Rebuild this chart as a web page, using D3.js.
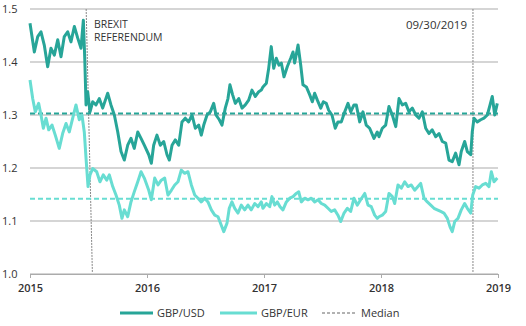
<!DOCTYPE html>
<html>
<head>
<meta charset="utf-8">
<script src="https://cdn.jsdelivr.net/npm/d3@7"></script>
<style>
  body { margin: 0; background: #fff; }
  svg text { font-family: "Open Sans", "Noto Sans", sans-serif; fill: #333; }
</style>
</head>
<body>
<div id="chart"></div>
<script>
// GBP/USD daily close (fractional year, rate)
const usdDates = [2015.000, 2015.037, 2015.066, 2015.094, 2015.122, 2015.151, 2015.179, 2015.208, 2015.237, 2015.265,
  2015.293, 2015.322, 2015.350, 2015.379, 2015.408, 2015.436, 2015.456, 2015.468, 2015.479, 2015.493,
  2015.513, 2015.536, 2015.564, 2015.592, 2015.621, 2015.664, 2015.692, 2015.721, 2015.750, 2015.778,
  2015.806, 2015.835, 2015.863, 2015.891, 2015.921, 2015.949, 2015.977, 2016.015, 2016.037, 2016.057,
  2016.085, 2016.114, 2016.143, 2016.171, 2016.191, 2016.214, 2016.242, 2016.271, 2016.299, 2016.327,
  2016.356, 2016.385, 2016.413, 2016.442, 2016.464, 2016.485, 2016.513, 2016.541, 2016.570, 2016.590,
  2016.618, 2016.641, 2016.669, 2016.692, 2016.709, 2016.732, 2016.755, 2016.784, 2016.812, 2016.840,
  2016.869, 2016.897, 2016.926, 2016.955, 2016.977, 2016.991, 2017.020, 2017.040, 2017.062, 2017.083,
  2017.105, 2017.128, 2017.148, 2017.171, 2017.199, 2017.228, 2017.248, 2017.262, 2017.291, 2017.314,
  2017.333, 2017.362, 2017.391, 2017.413, 2017.433, 2017.456, 2017.485, 2017.507, 2017.532, 2017.553,
  2017.581, 2017.609, 2017.632, 2017.661, 2017.690, 2017.718, 2017.741, 2017.769, 2017.789, 2017.818,
  2017.846, 2017.874, 2017.903, 2017.940, 2017.968, 2017.983, 2018.011, 2018.040, 2018.068, 2018.097,
  2018.126, 2018.154, 2018.182, 2018.211, 2018.239, 2018.268, 2018.297, 2018.325, 2018.353, 2018.382,
  2018.410, 2018.438, 2018.468, 2018.496, 2018.524, 2018.553, 2018.581, 2018.609, 2018.638, 2018.667,
  2018.686, 2018.715, 2018.738, 2018.767, 2018.780, 2018.795, 2018.823, 2018.852, 2018.880, 2018.909,
  2018.932, 2018.951, 2018.972, 2018.994];
const usdValues = [1.473, 1.419, 1.448, 1.457, 1.432, 1.391, 1.426, 1.413, 1.442, 1.410,
  1.448, 1.457, 1.438, 1.467, 1.445, 1.426, 1.479, 1.407, 1.319, 1.344,
  1.306, 1.325, 1.319, 1.331, 1.313, 1.341, 1.319, 1.300, 1.268, 1.231,
  1.215, 1.243, 1.256, 1.237, 1.268, 1.256, 1.243, 1.225, 1.209, 1.243,
  1.262, 1.243, 1.250, 1.225, 1.215, 1.243, 1.253, 1.243, 1.287, 1.294,
  1.287, 1.300, 1.275, 1.281, 1.262, 1.281, 1.300, 1.306, 1.322, 1.300,
  1.291, 1.281, 1.313, 1.331, 1.357, 1.338, 1.322, 1.331, 1.313, 1.319,
  1.328, 1.347, 1.335, 1.344, 1.347, 1.353, 1.360, 1.388, 1.429, 1.388,
  1.407, 1.394, 1.398, 1.372, 1.391, 1.407, 1.419, 1.398, 1.432, 1.394,
  1.357, 1.353, 1.338, 1.325, 1.341, 1.328, 1.313, 1.325, 1.322, 1.309,
  1.300, 1.275, 1.287, 1.287, 1.306, 1.322, 1.306, 1.319, 1.319, 1.287,
  1.306, 1.281, 1.275, 1.256, 1.268, 1.259, 1.275, 1.281, 1.316, 1.300,
  1.278, 1.331, 1.319, 1.322, 1.306, 1.313, 1.300, 1.294, 1.306, 1.275,
  1.265, 1.272, 1.259, 1.265, 1.250, 1.247, 1.215, 1.212, 1.228, 1.206,
  1.231, 1.250, 1.231, 1.225, 1.268, 1.294, 1.287, 1.291, 1.294, 1.300,
  1.319, 1.335, 1.300, 1.322];

// GBP/EUR daily close (fractional year, rate)
const eurDates = [2015.000, 2015.023, 2015.045, 2015.074, 2015.094, 2015.114, 2015.137, 2015.160, 2015.188, 2015.216,
  2015.250, 2015.279, 2015.308, 2015.336, 2015.365, 2015.393, 2015.421, 2015.444, 2015.464, 2015.479,
  2015.496, 2015.513, 2015.536, 2015.570, 2015.598, 2015.626, 2015.656, 2015.678, 2015.707, 2015.735,
  2015.763, 2015.786, 2015.806, 2015.835, 2015.863, 2015.891, 2015.921, 2015.949, 2015.977, 2016.015,
  2016.037, 2016.066, 2016.094, 2016.122, 2016.151, 2016.179, 2016.208, 2016.237, 2016.265, 2016.293,
  2016.322, 2016.350, 2016.379, 2016.408, 2016.436, 2016.464, 2016.493, 2016.521, 2016.550, 2016.579,
  2016.607, 2016.635, 2016.656, 2016.684, 2016.703, 2016.726, 2016.750, 2016.778, 2016.806, 2016.835,
  2016.863, 2016.891, 2016.921, 2016.949, 2016.977, 2016.991, 2017.020, 2017.049, 2017.068, 2017.091,
  2017.114, 2017.137, 2017.162, 2017.191, 2017.220, 2017.248, 2017.276, 2017.297, 2017.319, 2017.348,
  2017.376, 2017.404, 2017.433, 2017.462, 2017.490, 2017.519, 2017.547, 2017.575, 2017.604, 2017.632,
  2017.656, 2017.684, 2017.712, 2017.741, 2017.769, 2017.797, 2017.826, 2017.861, 2017.889, 2017.917,
  2017.946, 2017.968, 2017.983, 2018.011, 2018.040, 2018.068, 2018.097, 2018.117, 2018.145, 2018.174,
  2018.203, 2018.231, 2018.259, 2018.288, 2018.316, 2018.339, 2018.368, 2018.396, 2018.425, 2018.453,
  2018.481, 2018.510, 2018.538, 2018.567, 2018.590, 2018.609, 2018.630, 2018.658, 2018.686, 2018.715,
  2018.738, 2018.767, 2018.784, 2018.809, 2018.838, 2018.866, 2018.895, 2018.923, 2018.943, 2018.966,
  2018.994];
const eurValues = [1.366, 1.331, 1.306, 1.322, 1.300, 1.275, 1.294, 1.272, 1.281, 1.262,
  1.237, 1.265, 1.284, 1.268, 1.294, 1.319, 1.291, 1.300, 1.268, 1.218,
  1.165, 1.187, 1.199, 1.193, 1.174, 1.187, 1.177, 1.187, 1.165, 1.149,
  1.130, 1.105, 1.121, 1.108, 1.136, 1.155, 1.174, 1.193, 1.181, 1.158,
  1.140, 1.181, 1.168, 1.177, 1.181, 1.149, 1.158, 1.168, 1.174, 1.196,
  1.190, 1.193, 1.168, 1.149, 1.143, 1.136, 1.143, 1.136, 1.121, 1.111,
  1.108, 1.092, 1.080, 1.096, 1.124, 1.136, 1.124, 1.115, 1.130, 1.121,
  1.130, 1.121, 1.133, 1.127, 1.136, 1.124, 1.133, 1.127, 1.146, 1.130,
  1.136, 1.127, 1.121, 1.136, 1.143, 1.146, 1.152, 1.155, 1.136, 1.143,
  1.140, 1.143, 1.136, 1.140, 1.133, 1.130, 1.124, 1.118, 1.121, 1.111,
  1.099, 1.115, 1.124, 1.118, 1.143, 1.130, 1.140, 1.152, 1.130, 1.127,
  1.111, 1.105, 1.108, 1.111, 1.118, 1.152, 1.146, 1.133, 1.168, 1.162,
  1.174, 1.165, 1.168, 1.158, 1.165, 1.171, 1.143, 1.136, 1.130, 1.124,
  1.121, 1.118, 1.115, 1.105, 1.089, 1.080, 1.099, 1.105, 1.121, 1.133,
  1.124, 1.115, 1.149, 1.165, 1.162, 1.168, 1.171, 1.165, 1.193, 1.174,
  1.181];

const usdMedian = 1.303;
const eurMedian = 1.142;

const yearTicks = [2015, 2016, 2017, 2018, 2019];
const rateTicks = [1.0, 1.1, 1.2, 1.3, 1.4, 1.5];

// referendum marker (drawn with a slight lean) and the as-of date marker
const brexitTop = 2015.480, brexitBottom = 2015.533;
const asOfDate = 2018.786;

const colUsd = "#27a598";
const colEur = "#68ddd2";
const colGrid = "#ababab";

const W = 526, H = 326;
const svg = d3.select("#chart").append("svg")
  .attr("width", W)
  .attr("height", H);

const x = d3.scaleLinear().domain([2015, 2019]).range([30, 498]);
const y = d3.scaleLinear().domain([1.0, 1.5]).range([274, 9]);

// horizontal gridlines
svg.append("g")
  .selectAll("line")
  .data(rateTicks)
  .join("line")
  .attr("x1", x(2015))
  .attr("x2", x(2019))
  .attr("y1", d => y(d))
  .attr("y2", d => y(d))
  .attr("stroke", colGrid)
  .attr("stroke-width", 1);

// y labels, flush left
svg.append("g")
  .selectAll("text")
  .data(rateTicks)
  .join("text")
  .attr("x", 2)
  .attr("y", d => y(d) + 1)
  .attr("dominant-baseline", "middle")
  .attr("font-size", 11)
  .text(d => d3.format(".1f")(d));

// x axis
const xAxis = svg.append("g")
  .attr("transform", `translate(0,${y(1.0)})`)
  .call(d3.axisBottom(x).tickValues(yearTicks).tickFormat(d3.format("d")).tickSize(4).tickPadding(6));
xAxis.select(".domain").attr("stroke", colGrid);
xAxis.selectAll(".tick line").attr("stroke", colGrid);
xAxis.selectAll(".tick text")
  .attr("font-size", 11)
  .attr("font-family", "Open Sans, sans-serif")
  .attr("font-weight", 600)
  .attr("fill", "#333");

// vertical markers
svg.append("line")
  .attr("x1", x(brexitTop)).attr("y1", y(1.5))
  .attr("x2", x(brexitBottom)).attr("y2", y(1.0) - 2)
  .attr("stroke", "#888").attr("stroke-width", 1)
  .attr("stroke-dasharray", "2,1");
svg.append("line")
  .attr("x1", x(asOfDate)).attr("y1", y(1.5))
  .attr("x2", x(asOfDate)).attr("y2", y(1.0) - 2)
  .attr("stroke", "#888").attr("stroke-width", 1)
  .attr("stroke-dasharray", "2,1");

// median lines
svg.append("line")
  .attr("x1", x(2015)).attr("x2", x(2019))
  .attr("y1", y(usdMedian)).attr("y2", y(usdMedian))
  .attr("stroke", colUsd).attr("stroke-width", 2)
  .attr("stroke-dasharray", "5,3");
svg.append("line")
  .attr("x1", x(2015)).attr("x2", x(2019))
  .attr("y1", y(eurMedian)).attr("y2", y(eurMedian))
  .attr("stroke", colEur).attr("stroke-width", 2)
  .attr("stroke-dasharray", "5,3");

// the two series
const line = d3.line()
  .x(d => x(d[0]))
  .y(d => y(d[1]));

svg.append("path")
  .datum(d3.zip(eurDates, eurValues))
  .attr("d", line)
  .attr("fill", "none")
  .attr("stroke", colEur)
  .attr("stroke-width", 3)
  .attr("stroke-linejoin", "round");

svg.append("path")
  .datum(d3.zip(usdDates, usdValues))
  .attr("d", line)
  .attr("fill", "none")
  .attr("stroke", colUsd)
  .attr("stroke-width", 3)
  .attr("stroke-linejoin", "round");

// annotations
svg.append("text")
  .attr("x", 94)
  .attr("y", 27.5)
  .attr("font-family", "Lato, sans-serif")
  .attr("font-size", 10.5)
  .attr("fill", "#222")
  .text("BREXIT");
svg.append("text")
  .attr("x", 94)
  .attr("y", 41)
  .attr("font-family", "Lato, sans-serif")
  .attr("font-size", 10.5)
  .attr("fill", "#222")
  .text("REFERENDUM");

svg.append("text")
  .attr("x", 467)
  .attr("y", 29)
  .attr("text-anchor", "end")
  .attr("font-family", "Lato, sans-serif")
  .attr("font-size", 11.5)
  .attr("fill", "#222")
  .text("09/30/2019");

// legend
const legend = [
  { label: "GBP/USD", color: colUsd, x0: 120, x1: 153, dash: null, w: 3 },
  { label: "GBP/EUR", color: colEur, x0: 220, x1: 257, dash: null, w: 3 },
  { label: "Median", color: "#999", x0: 322, x1: 357, dash: "3,2", w: 1.5 }
];
const lg = svg.append("g").attr("transform", "translate(0,313)");
legend.forEach(d => {
  lg.append("line")
    .attr("x1", d.x0).attr("x2", d.x1)
    .attr("stroke", d.color)
    .attr("stroke-width", d.w)
    .attr("stroke-dasharray", d.dash);
  lg.append("text")
    .attr("x", d.x1 + 4)
    .attr("dominant-baseline", "middle")
    .attr("y", 1)
    .attr("font-size", 11)
    .text(d.label);
});
</script>
</body>
</html>
